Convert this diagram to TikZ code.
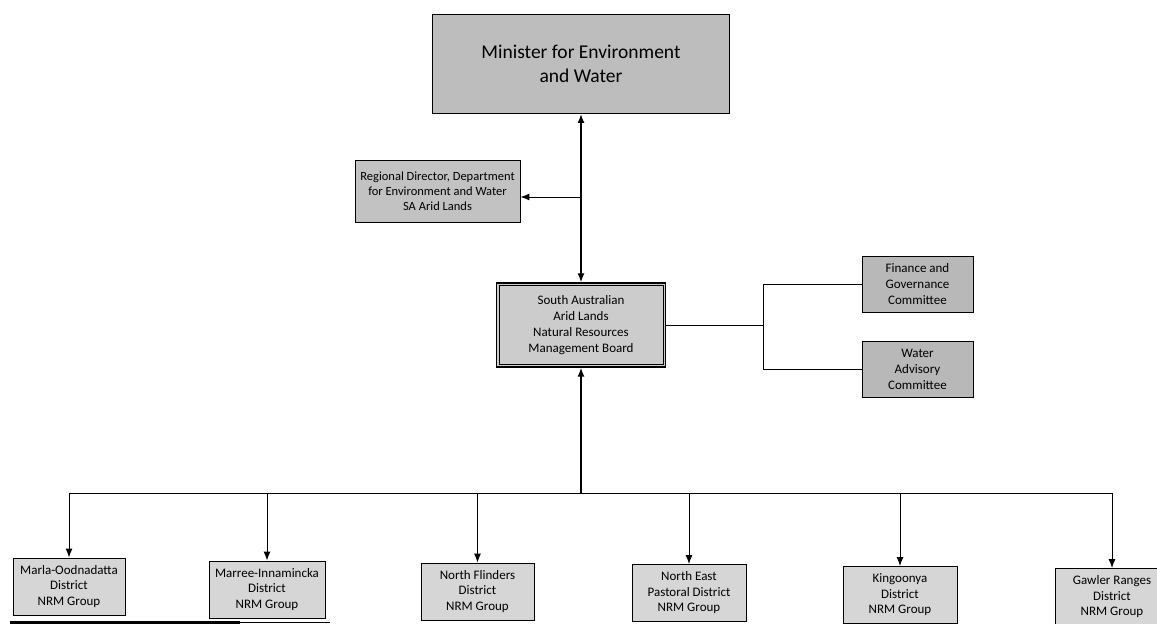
\documentclass[tikz,border=0pt]{standalone}
\usepackage{fontspec}
\setmainfont{Carlito}
\usetikzlibrary{%
  arrows,%
  arrows.meta,%
  positioning,%
}
\definecolor{ministergray}{gray}{0.74}
\definecolor{dirgray}{gray}{0.76}
\definecolor{boardgray}{gray}{0.80}
\definecolor{commgray}{gray}{0.72}
\definecolor{groupgray}{gray}{0.84}
\tikzset{%
  orgbox/.style={draw, line width=0.9pt, align=center, inner sep=0pt,
    font=\fontsize{13}{16}\selectfont},
  groupbox/.style={orgbox, fill=groupgray, minimum width=114pt, minimum height=57pt,
    font=\fontsize{13}{15.5}\selectfont},
  commbox/.style={orgbox, fill=commgray, minimum width=111pt, minimum height=56pt},
  conn/.style={draw, line width=1pt, >={Latex[length=9pt,width=7pt]}},
  mainconn/.style={conn, line width=1.5pt},
}
\begin{document}
\begin{tikzpicture}[x=1pt, y=-1pt]
    \clip (0,0) rectangle (1157,624);
    \fill[white] (0,0) rectangle (1157,624);
    % top of the chart
    \node[orgbox, fill=ministergray, minimum width=297pt, minimum height=99pt,
      font=\fontsize{19.5}{24}\selectfont] (minister) at (581,64)
      {Minister for Environment\\and Water};
    \node[orgbox, fill=dirgray, minimum width=165pt, minimum height=62pt,
      font=\fontsize{12.5}{15}\selectfont] (director) at (437.5,191)
      {Regional Director, Department\\for Environment and Water\\SA Arid Lands};
    \node[orgbox, fill=boardgray, line width=1.3pt,
      minimum width=169pt, minimum height=84pt] (board) at (581,325)
      {South Australian\\Arid Lands\\Natural Resources\\Management Board};
    \draw[line width=0.7pt] ([shift={(3,3)}]board.north west)
      rectangle ([shift={(-3,-3)}]board.south east);
    % committees
    \node[commbox] (finance) at (917.5,284) {Finance and\\Governance\\Committee};
    \node[commbox] (water) at (917.5,369.5) {Water\\Advisory\\Committee};
    % NRM groups
    \node[groupbox, minimum width=112pt] (marla) at (69,586.5) {Marla-Oodnadatta\\District\\NRM Group};
    \node[groupbox, minimum width=116pt] (marree) at (267,589.5) {Marree-Innamincka\\District\\NRM Group};
    \node[groupbox, minimum width=113pt] (flinders) at (477.5,591.5) {North Flinders\\District\\NRM Group};
    \node[groupbox] (pastoral) at (689,593) {North East\\Pastoral District\\NRM Group};
    \node[groupbox] (kingoonya) at (900,595) {Kingoonya\\District\\NRM Group};
    \node[groupbox] (gawler) at (1112,597) {Gawler Ranges\\District\\NRM Group};
    % connectors
    \coordinate (dirsplit) at (581,197);
    \coordinate (commsplit) at (763,325);
    \coordinate (bus) at (581,493);
    \draw[mainconn, <->] (minister) -- (board);
    \draw[conn, ->] (dirsplit) -- (director.east |- dirsplit);
    \draw[conn] (board.east) -- (commsplit);
    \draw[conn] (finance.west) -- (commsplit |- finance.west)
      -- (commsplit |- water.west) -- (water.west);
    \draw[mainconn, ->] (bus) -- (board);
    \draw[conn, rounded corners=2pt] (marla |- bus) -- (gawler |- bus);
    \foreach \grp in {marla,marree,flinders,pastoral,kingoonya,gawler}
      \draw[conn, ->] (\grp |- bus) -- (\grp);
    % edge of the scanned page
    \draw[line width=3pt] (10,622) -- (240,622);
    \draw[line width=1pt] (240,622) -- (330,622);
\end{tikzpicture}
\end{document}
